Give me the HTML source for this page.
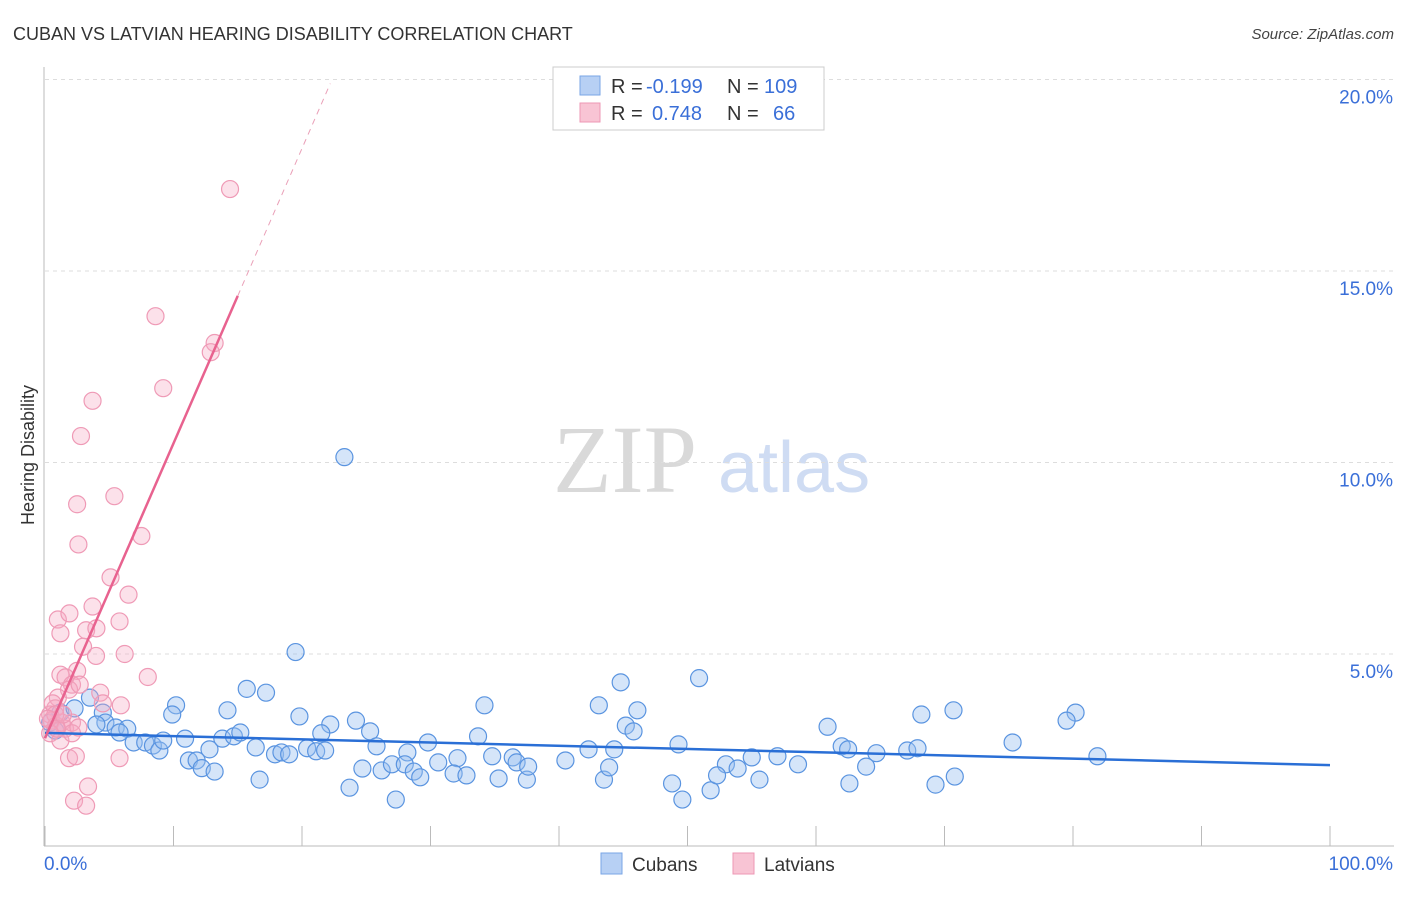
<!DOCTYPE html>
<html><head><meta charset="utf-8">
<style>
body{margin:0;background:#fff;font-family:"Liberation Sans",sans-serif;}
</style></head>
<body>
<svg id="chart" width="1406" height="892" xmlns="http://www.w3.org/2000/svg" font-family="Liberation Sans, sans-serif">
<text x="13" y="40" font-size="18" fill="#333">CUBAN VS LATVIAN HEARING DISABILITY CORRELATION CHART</text>
<text x="1394" y="39" font-size="15" fill="#444" text-anchor="end" font-style="italic">Source: ZipAtlas.com</text>
<g>
<text x="553" y="492" font-size="96" fill="#d9d9d9" style="font-family:'Liberation Serif',serif">ZIP</text>
<text x="718" y="492" font-size="72" fill="#cfdcf3">atlas</text>
</g>
<g id="grid"></g>
<g id="axes"></g>
<g id="marks"></g>
<g id="trend"></g>
<text transform="translate(34,455) rotate(-90)" font-size="18" fill="#333" text-anchor="middle">Hearing Disability</text>
<g>
<rect x="553" y="67" width="271" height="63" fill="#fff" stroke="#ccc"/>
<rect x="580" y="76" width="20" height="19" fill="#b7d0f4" stroke="#7aa6e6"/>
<rect x="580" y="103" width="20" height="19" fill="#f8c4d4" stroke="#ee97b4"/>
<text x="611" y="93" font-size="20" fill="#333">R =</text>
<text x="646" y="93" font-size="20" fill="#3a6fd8">-0.199</text>
<text x="727" y="93" font-size="20" fill="#333">N =</text>
<text x="764" y="93" font-size="20" fill="#3a6fd8">109</text>
<text x="611" y="120" font-size="20" fill="#333">R =</text>
<text x="652" y="120" font-size="20" fill="#3a6fd8">0.748</text>
<text x="727" y="120" font-size="20" fill="#333">N =</text>
<text x="773" y="120" font-size="20" fill="#3a6fd8">66</text>
</g>
<g>
<rect x="601" y="853" width="21" height="21" fill="#b7d0f4" stroke="#7aa6e6"/>
<text x="632" y="871" font-size="19" fill="#333">Cubans</text>
<rect x="733" y="853" width="21" height="21" fill="#f8c4d4" stroke="#ee97b4"/>
<text x="764" y="871" font-size="19" fill="#333">Latvians</text>
</g>
</svg>
<script>
const yTicks=[5,10,15,20];
const yTickLabels=["5.0%","10.0%","15.0%","20.0%"];
const xTickLabels=["0.0%","100.0%"];
const cubanX=[23.3,19.5,50.9,44.8,34.2,43.1,46.1,68.2,70.7,80.2,79.5,60.9,45.2,45.8,15.7,17.2,10.2,9.9,14.2,19.8,22.2,24.2,25.3,1.2,2.3,3.5,4.5,4.7,5.5,4.0,6.4,5.8,6.9,7.8,8.4,8.9,9.2,10.9,12.8,13.8,14.7,15.2,16.4,17.9,18.4,19.0,20.4,21.1,21.8,21.5,25.8,28.2,29.8,33.7,32.1,34.8,36.4,42.3,44.3,49.3,52.99,55.0,57.0,62.0,62.5,64.7,67.1,67.9,75.3,81.9,11.2,11.8,12.2,13.2,16.7,23.7,24.7,26.2,27.0,28.0,28.7,29.2,30.6,31.8,32.8,35.3,36.7,37.5,37.6,40.5,43.5,43.9,48.8,49.6,51.8,52.3,53.9,55.6,58.6,62.6,63.9,69.3,70.8,27.3,0.4,0.8];
const cubanY=[10.14,5.05,4.37,4.26,3.66,3.66,3.53,3.42,3.53,3.47,3.26,3.10,3.13,2.98,4.09,3.99,3.66,3.42,3.53,3.37,3.16,3.26,2.98,3.47,3.58,3.86,3.47,3.21,3.08,3.16,3.05,2.95,2.69,2.69,2.61,2.48,2.74,2.79,2.51,2.79,2.85,2.95,2.56,2.38,2.43,2.38,2.54,2.46,2.48,2.93,2.59,2.43,2.69,2.85,2.28,2.33,2.30,2.51,2.51,2.64,2.12,2.30,2.33,2.59,2.51,2.41,2.48,2.54,2.69,2.33,2.22,2.22,2.02,1.93,1.72,1.51,2.01,1.96,2.12,2.12,1.93,1.78,2.17,1.88,1.83,1.75,2.17,1.72,2.06,2.22,1.72,2.04,1.62,1.2,1.44,1.83,2.01,1.72,2.12,1.62,2.06,1.59,1.80,1.2,3.21,3.0];
const latvianX=[14.4,8.6,13.2,12.9,9.2,3.7,2.8,2.5,5.4,7.5,2.6,5.1,6.5,3.7,1.0,1.9,5.8,1.2,3.2,4.0,2.96,6.2,3.97,8.0,2.5,1.2,1.6,2.1,1.87,2.7,1.0,4.3,5.9,4.5,0.8,0.4,0.5,0.86,1.3,1.56,2.1,0.4,1.2,2.1,2.6,1.87,2.4,5.8,3.35,2.26,3.2,0.6,0.8,0.23,0.93,1.4];
const latvianY=[17.14,13.82,13.12,12.88,11.94,11.61,10.69,8.91,9.12,8.08,7.86,7.00,6.55,6.24,5.90,6.06,5.85,5.54,5.62,5.67,5.19,5.00,4.95,4.40,4.56,4.46,4.39,4.20,4.07,4.20,3.86,3.99,3.66,3.71,3.58,3.42,3.26,3.13,3.21,3.05,3.21,2.93,2.74,2.93,3.08,2.28,2.33,2.28,1.54,1.17,1.04,3.71,3.42,3.31,3.05,3.42];
const cubanTrend=[2.94,2.10];
const latvianTrend=[2.8,0.77];
const X0=45,X1=1330,Y0=845.5,PY=38.3;
const sx=v=>X0+(X1-X0)*v/100, sy=v=>Y0-PY*v;
const NS="http://www.w3.org/2000/svg";
function mk(t,a,p){const e=document.createElementNS(NS,t);for(const k in a)e.setAttribute(k,a[k]);p.appendChild(e);return e;}
const grid=document.getElementById('grid'),axes=document.getElementById('axes'),marks=document.getElementById('marks'),trend=document.getElementById('trend');
yTicks.forEach((t,i)=>{
 const l=mk('line',{x1:45,x2:1394,y1:sy(t),y2:sy(t),stroke:'#ddd','stroke-dasharray':'4,4'},grid);
 
 
 const tx=mk('text',{x:1393,y:sy(t)+24,'font-size':19,fill:'#3a6fd8','text-anchor':'end'},axes);
 tx.textContent=yTickLabels[i];
 
 
});
const ax=mk('line',{x1:44,x2:44,y1:67,y2:846,stroke:'#bbb'},axes);


const bx=mk('line',{x1:44,x2:1394,y1:846,y2:846,stroke:'#bbb'},axes);


for(let i=0;i<=10;i++){const t=mk('line',{x1:sx(i*10),x2:sx(i*10),y1:826,y2:846,stroke:'#bbb'},axes);
 
 }
[[0,'start',44],[100,'end',1393]].forEach((d,i)=>{const t=mk('text',{x:d[2],y:870,'font-size':19,fill:'#3a6fd8','text-anchor':d[1]},axes);t.textContent=xTickLabels[i];
 
 });
cubanX.forEach((x,i)=>{const c=mk('circle',{cx:sx(x),cy:sy(cubanY[i]),r:8.5,fill:'rgba(150,190,240,0.4)',stroke:'#5a94e0','stroke-width':1.2},marks);
 
 });
latvianX.forEach((x,i)=>{const c=mk('circle',{cx:sx(x),cy:sy(latvianY[i]),r:8.5,fill:'rgba(245,170,195,0.35)',stroke:'#ef9ab6','stroke-width':1.2},marks);
 
 });
const bt=mk('line',{x1:sx(0),y1:sy(cubanTrend[0]),x2:sx(100),y2:sy(cubanTrend[1]),stroke:'#2a6fd6','stroke-width':2.5},trend);


const lf=x=>latvianTrend[0]+latvianTrend[1]*x;
const pt=mk('line',{x1:sx(0),y1:sy(lf(0)),x2:sx(15),y2:sy(lf(15)),stroke:'#e8628f','stroke-width':2.5},trend);


const pd=mk('line',{x1:sx(15),y1:sy(lf(15)),x2:sx(22.2),y2:sy(lf(22.2)),stroke:'#eaa0b8','stroke-width':1,'stroke-dasharray':'6,5'},trend);


</script>
</body></html>
